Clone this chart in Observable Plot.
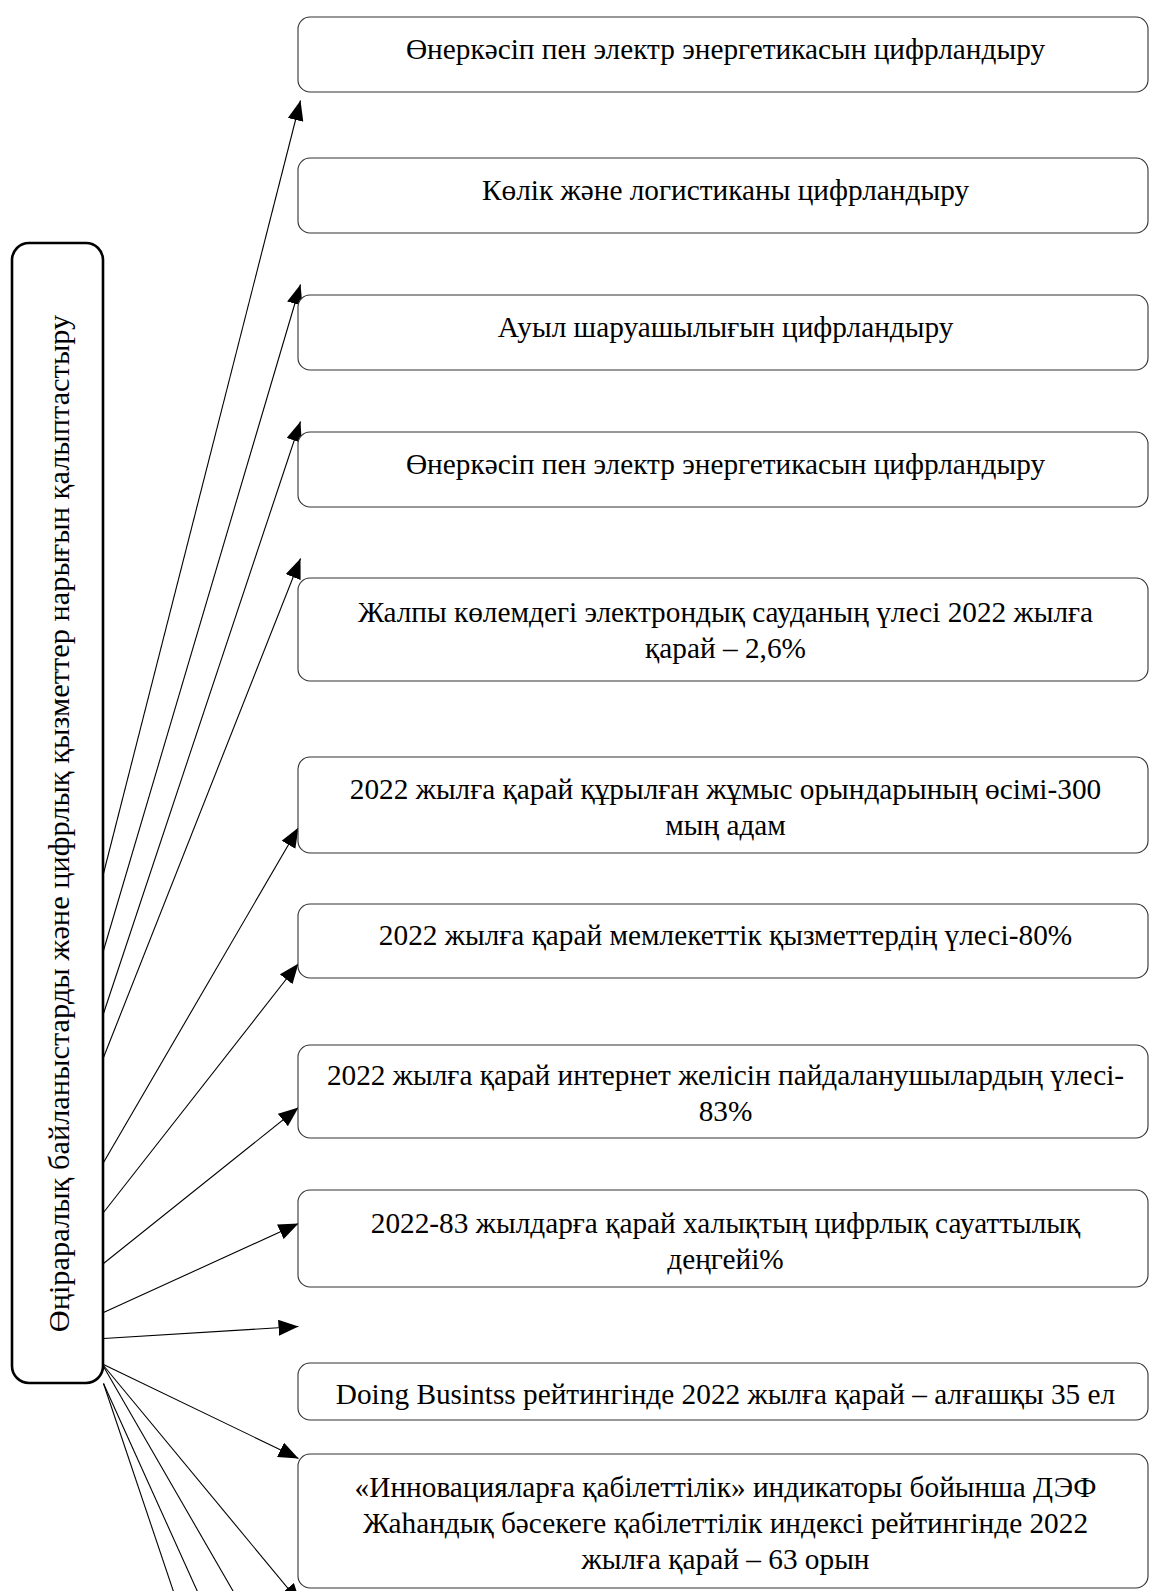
<!DOCTYPE html>
<html>
<head>
<meta charset="utf-8">
<script src="https://cdn.jsdelivr.net/npm/d3@7"></script>
<script src="https://cdn.jsdelivr.net/npm/@observablehq/plot@0.6"></script>
<style>
  html, body { margin: 0; padding: 0; background: #fff; }
  #chart svg { display: block; }
</style>
</head>
<body>
<div id="chart"></div>
<script>
// ---- Diagram content ----
const hubLabel = "Өңіраралық байланыстарды және цифрлық қызметтер нарығын қалыптастыру";

const boxLabels = [
  "Өнеркәсіп пен электр энергетикасын цифрландыру",
  "Көлік және логистиканы цифрландыру",
  "Ауыл шаруашылығын цифрландыру",
  "Өнеркәсіп пен электр энергетикасын цифрландыру",
  "Жалпы көлемдегі электрондық сауданың үлесі 2022 жылға\nқарай – 2,6%",
  "2022 жылға қарай құрылған жұмыс орындарының өсімі-300\nмың адам",
  "2022 жылға қарай мемлекеттік қызметтердің үлесі-80%",
  "2022 жылға қарай интернет желісін пайдаланушылардың үлесі-\n83%",
  "2022-83 жылдарға қарай халықтың цифрлық сауаттылық\nдеңгейі%",
  "Doing Busintss рейтингінде 2022 жылға қарай – алғашқы 35 ел",
  "«Инновацияларға қабілеттілік» индикаторы бойынша ДЭФ\nЖаһандық бәсекеге қабілеттілік индексі рейтингінде 2022\nжылға қарай – 63 орын"
];
// vertical extent of each box (diagram units)
const boxTop    = [17, 158, 295, 432, 578, 757, 904, 1045, 1190, 1363, 1454];
const boxBottom = [92, 233, 370, 507, 681, 853, 978, 1138, 1287, 1420, 1588];
// label shift inside each box (text sits a little high in some boxes)
const labelShift = [-8, -8, -8, -8, -2, 0, -8, -1, 0, 0, 0];

// arrows from the hub to the boxes (diagram units)
const arrowFromY = [873, 950, 1013, 1057, 1162, 1212, 1263, 1312, 1338, 1364, 1365];
const arrowToX   = [300, 300, 300, 300, 298, 298, 298, 298, 298, 298, 300];
const arrowToY   = [100, 284, 421, 558, 827, 963, 1107, 1223, 1326, 1458, 1603];

// lines that leave the picture at the bottom
const strayFromY = [1383, 1383, 1366];
const strayToX   = [176, 201, 238];
const strayToY   = [1600, 1600, 1600];

// ---- layout frame ----
const W = 1149, H = 1591;
const hub = {x1: 12, x2: 103, y1: 243, y2: 1383, label: hubLabel};
const boxX1 = 298, boxX2 = 1148;

const boxes = boxLabels.map((label, i) => ({
  label, x1: boxX1, x2: boxX2, y1: boxTop[i], y2: boxBottom[i], shift: labelShift[i]
}));
const arrows = arrowFromY.map((y, i) => ({x1: hub.x2, y1: y, x2: arrowToX[i], y2: arrowToY[i]}));
const strays = strayFromY.map((y, i) => ({x1: hub.x2, y1: y, x2: strayToX[i], y2: strayToY[i]}));

const serif = "'Liberation Serif', 'Times New Roman', 'DejaVu Serif', serif";
const fs = 29.3;

const chart = Plot.plot({
  width: W,
  height: H,
  margin: 0,
  x: {type: "linear", domain: [0, W], range: [0, W], axis: null},
  y: {type: "linear", domain: [0, H], range: [0, H], axis: null},
  style: {background: "white", fontFamily: serif, overflow: "hidden"},
  marks: [
    Plot.link(strays, {x1: "x1", y1: "y1", x2: "x2", y2: "y2", stroke: "black", strokeWidth: 1.1}),
    Plot.link(arrows, {x1: "x1", y1: "y1", x2: "x2", y2: "y2", stroke: "black", strokeWidth: 1.1, markerEnd: "arrow"}),
    Plot.rect(boxes, {x1: "x1", x2: "x2", y1: "y1", y2: "y2", rx: 12, fill: "white", stroke: "#333", strokeWidth: 1.1}),
    Plot.rect([hub], {x1: "x1", x2: "x2", y1: "y1", y2: "y2", rx: 17, fill: "white", stroke: "black", strokeWidth: 2.6}),
    Plot.text(boxes, {
      x: d => (d.x1 + d.x2) / 2 + 2,
      y: d => (d.y1 + d.y2) / 2 + d.shift,
      text: "label",
      fontSize: fs,
      lineHeight: 36 / fs,
      textAnchor: "middle",
      lineAnchor: "middle",
      fill: "black"
    }),
    Plot.text([hub], {
      x: d => (d.x1 + d.x2) / 2 + 1,
      y: d => (d.y1 + d.y2) / 2 + 10,
      text: "label",
      rotate: -90,
      fontSize: 30.4,
      textAnchor: "middle",
      lineAnchor: "middle",
      fill: "black"
    })
  ]
});

// filled triangular arrowheads
chart.querySelectorAll("marker").forEach(m => {
  m.setAttribute("viewBox", "-20 -8 20 16");
  m.setAttribute("markerUnits", "userSpaceOnUse");
  m.setAttribute("markerWidth", "20");
  m.setAttribute("markerHeight", "16");
  m.setAttribute("refX", "0");
  m.setAttribute("refY", "0");
  m.setAttribute("fill", "black");
  m.setAttribute("stroke", "none");
  m.querySelectorAll("path").forEach(p => p.setAttribute("d", "M-20,-8L0,0L-20,8Z"));
});

document.getElementById("chart").appendChild(chart);
</script>
</body>
</html>
